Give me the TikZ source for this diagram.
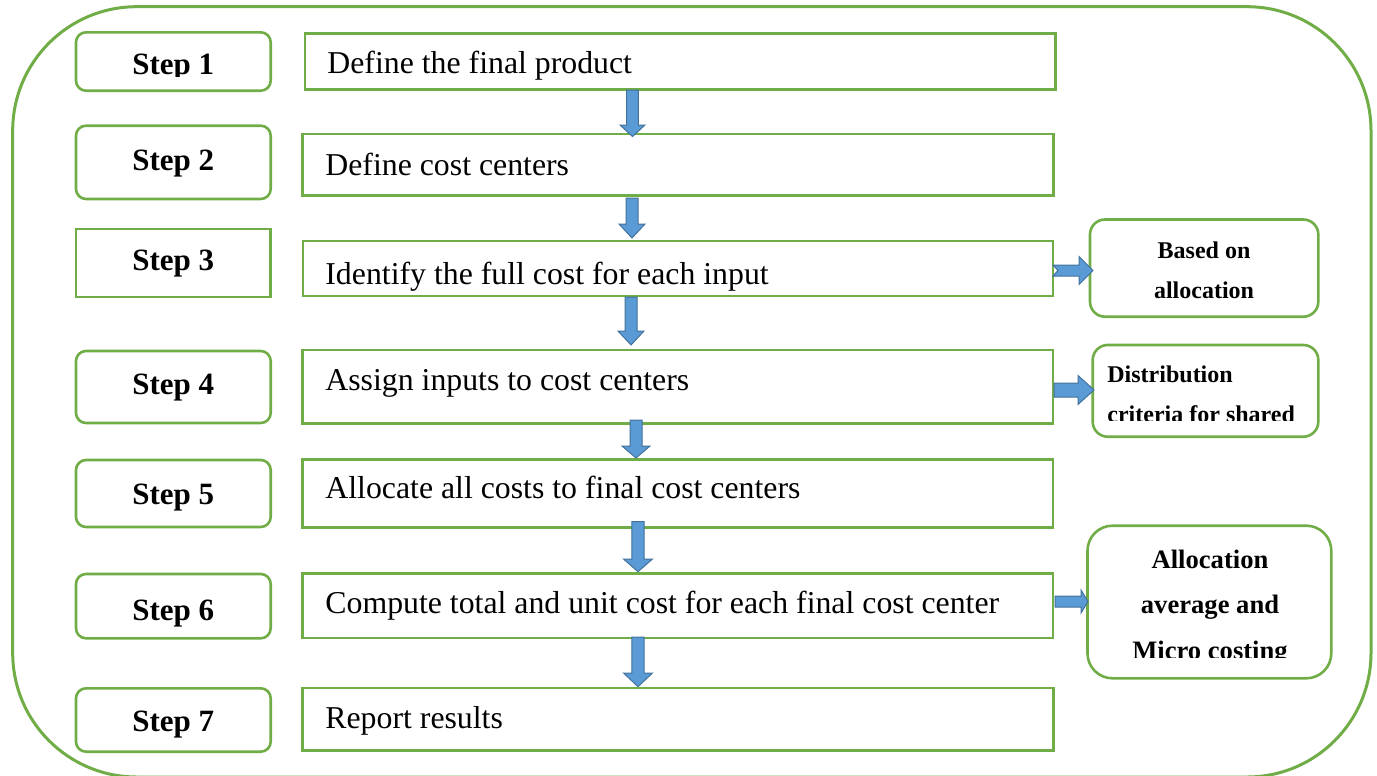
\documentclass[tikz,border=0pt]{standalone}
\usepackage{fontspec}
\setmainfont{Liberation Serif}
\usetikzlibrary{fit}

\definecolor{boxgreen}{HTML}{70AD47}
\definecolor{arrowfill}{HTML}{5B9BD5}
\definecolor{arrowline}{HTML}{41719C}

% block arrow pointing down: centre x, top y, head start y, tip y, half shaft, half head
\newcommand{\blockdown}[6]{%
  \filldraw[blockarrow] (#1-#5,#2) -- (#1+#5,#2) -- (#1+#5,#3) -- (#1+#6,#3)
    -- (#1,#4) -- (#1-#6,#3) -- (#1-#5,#3) -- cycle;}
% block arrow pointing right: centre y, tail x, head start x, tip x, half shaft, half head
\newcommand{\blockright}[6]{%
  \filldraw[blockarrow] (#2,#1-#5) -- (#3,#1-#5) -- (#3,#1-#6) -- (#4,#1)
    -- (#3,#1+#6) -- (#3,#1+#5) -- (#2,#1+#5) -- cycle;}

\begin{document}
\begin{tikzpicture}[x=0.5pt,y=-0.5pt,
  stepbox/.style={draw=boxgreen, line width=1.3pt, rounded corners=5pt, inner sep=0pt},
  plainbox/.style={draw=boxgreen, line width=1.3pt, inner sep=0pt},
  notebox/.style={draw=boxgreen, line width=1.3pt, rounded corners=7.5pt, inner sep=0pt},
  steptext/.style={anchor=base, inner sep=0pt, font=\fontsize{15.5}{18}\selectfont\bfseries},
  maintext/.style={anchor=base west, inner sep=0pt, font=\fontsize{15.9}{19}\selectfont},
  notetext/.style={inner sep=0pt, font=\fontsize{12}{14}\selectfont\bfseries},
  bignote/.style={anchor=base, inner sep=0pt, font=\fontsize{13.3}{16}\selectfont\bfseries},
  blockarrow/.style={fill=arrowfill, draw=arrowline, line width=0.5pt, line join=miter}]

\useasboundingbox (0,0) rectangle (1377,776);
\clip (0,0) rectangle (1377,776);

% outer frame
\draw[draw=boxgreen, line width=1.5pt, rounded corners=62pt]
  (12.7,6.7) rectangle (1371,777);

% step labels
\node[stepbox, fit={(76,32.3) (270.7,90.7)}] (s1) {};
\node[stepbox, fit={(76,125.7) (270.7,199)}] (s2) {};
\node[plainbox, fit={(76,229) (270.7,297)}] (s3) {};
\node[stepbox, fit={(76,351) (270.7,423)}] (s4) {};
\node[stepbox, fit={(76,460) (270.7,527)}] (s5) {};
\node[stepbox, fit={(76,574) (270.7,638.3)}] (s6) {};
\node[stepbox, fit={(76,688.3) (270.7,751.7)}] (s7) {};

\begin{scope}
  \clip (76,30) rectangle (271,76.5);
  \node[steptext] (st1) at (173.3,75) {Step 1};
\end{scope}
\node[steptext] (st2) at (173.3,170) {Step 2};
\node[steptext] (st3) at (173.3,270) {Step 3};
\node[steptext] (st4) at (173.3,394) {Step 4};
\node[steptext] (st5) at (173.3,504) {Step 5};
\node[steptext] (st6) at (173.3,620) {Step 6};
\node[steptext] (st7) at (173.3,731.7) {Step 7};

% process boxes
\node[plainbox, fit={(305,33.3) (1055.7,89.3)}] (b1) {};
\node[plainbox, fit={(302.7,134) (1053.3,195.7)}] (b2) {};
\node[plainbox, fit={(303,241) (1053,296)}] (b3) {};
\node[plainbox, fit={(302.7,350) (1053,423.3)}] (b4) {};
\node[plainbox, fit={(302.7,459.3) (1053,527.3)}] (b5) {};
\node[plainbox, fit={(302.7,573.3) (1053,638)}] (b6) {};
\node[plainbox, fit={(302.7,688) (1053.3,750.7)}] (b7) {};

\begin{scope}
  \clip (305,33) rectangle (1056,83.5);
  \node[maintext] (m1) at (327,73.3) {Define the final product};
\end{scope}
\node[maintext] (m2) at (325,175.5) {Define cost centers};
\begin{scope}
  \clip (303,241) rectangle (1053,291.5);
  \node[maintext] (m3) at (325,284) {Identify the full cost for each input};
\end{scope}
\node[maintext] (m4) at (325,390.7) {Assign inputs to cost centers};
\node[maintext] (m5) at (325,498) {Allocate all costs to final cost centers};
\node[maintext] (m6) at (325,613) {Compute total and unit cost for each final cost center};
\node[maintext] (m7) at (325,728.5) {Report results};

% side notes
\node[notebox, fit={(1090,219.5) (1318.3,316.7)}] (n1) {};
\node[notebox, fit={(1092.7,345) (1318.3,436.7)}] (n2) {};
\node[notebox, rounded corners=12.5pt, fit={(1087.5,525.7) (1331.3,678.3)}] (n3) {};

\node[notetext, anchor=base] (n1a) at (1204,258) {Based on};
\node[notetext, anchor=base] (n1b) at (1204,298) {allocation};
\node[notetext, anchor=base west] (n2a) at (1107,382) {Distribution};
\begin{scope}
  \clip (1093,345) rectangle (1318,420.5);
  \node[notetext, anchor=base west] (n2b) at (1107,422) {criteria for shared};
\end{scope}
\node[bignote] (n3a) at (1210,568) {Allocation};
\node[bignote] (n3b) at (1210,613) {average and};
\begin{scope}
  \clip (1088,526) rectangle (1331,657);
  \node[bignote] (n3c) at (1210,659.5) {Micro costing};
\end{scope}

% flow arrows between the process boxes
\blockdown{632.5}{90}{125}{136.5}{5.8}{12.5}
\blockdown{632}{198}{224}{238}{6}{13}
\blockdown{631}{297}{331}{345}{6}{13}
\blockdown{636}{420}{446}{458}{6}{14}
\blockdown{638}{521.7}{559}{571.7}{6.2}{14.5}
\blockdown{638}{637}{673}{686.7}{6.2}{14.5}

% arrows to the side notes
\filldraw[blockarrow] (1053,265) -- (1079,265) -- (1079,256.5) -- (1093,270.5)
  -- (1079,284.5) -- (1079,276) -- (1053,276) -- (1058,270.5) -- cycle;
\blockright{390}{1054}{1078}{1094}{7}{14.5}
\blockright{601.5}{1055}{1081}{1088}{5.5}{11.5}

\end{tikzpicture}
\end{document}
